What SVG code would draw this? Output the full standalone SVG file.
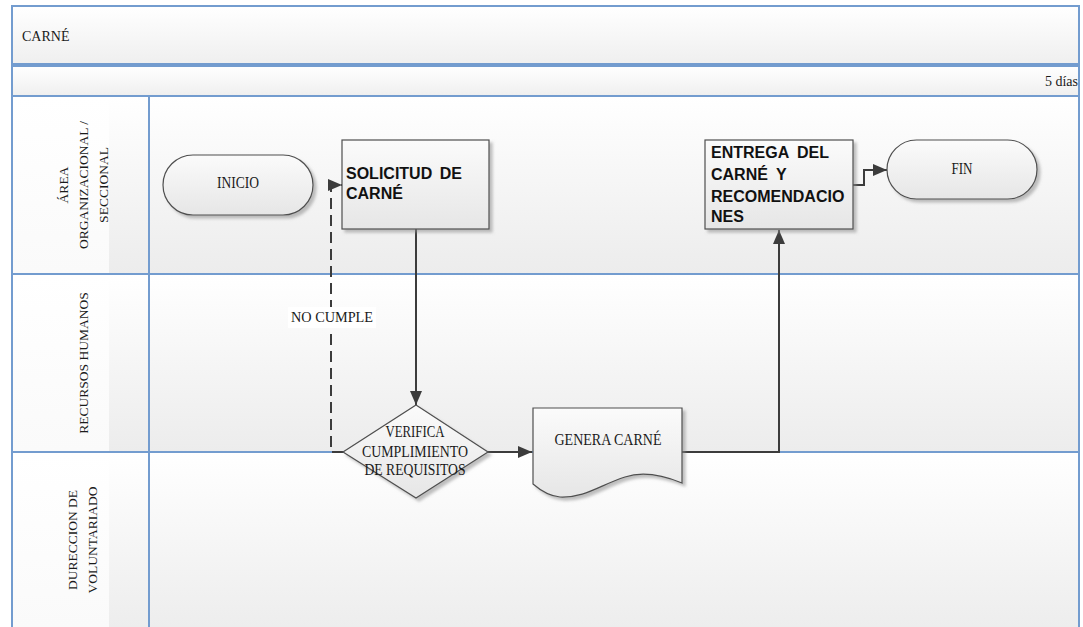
<svg xmlns="http://www.w3.org/2000/svg" width="1083" height="627" viewBox="0 0 1083 627">
  <defs>
    <linearGradient id="bandFill" x1="0" y1="0" x2="0" y2="1">
      <stop offset="0" stop-color="#ffffff"/>
      <stop offset="1" stop-color="#efefef"/>
    </linearGradient>
    <linearGradient id="laneFill" x1="0" y1="0" x2="0" y2="1">
      <stop offset="0" stop-color="#ffffff"/>
      <stop offset="1" stop-color="#ececec"/>
    </linearGradient>
    <linearGradient id="labelFill" x1="0" y1="0" x2="0" y2="1">
      <stop offset="0" stop-color="#ffffff"/>
      <stop offset="1" stop-color="#fafafa"/>
    </linearGradient>
    <linearGradient id="shapeFill" x1="0" y1="0" x2="0" y2="1">
      <stop offset="0" stop-color="#fbfbfb"/>
      <stop offset="1" stop-color="#e6e6e6"/>
    </linearGradient>
    <filter id="shadow" x="-10%" y="-10%" width="130%" height="140%">
      <feDropShadow dx="3" dy="3" stdDeviation="1.5" flood-color="#8a8a8a" flood-opacity="0.55"/>
    </filter>
    <marker id="arrow" viewBox="0 0 14 12" refX="14" refY="6" markerWidth="14" markerHeight="12" markerUnits="userSpaceOnUse" orient="auto">
      <path d="M0,0 L14,6 L0,12 Z" fill="#3c3c3c"/>
    </marker>
  </defs>
  <style>
    .band { fill: url(#bandFill); stroke: #739ccf; stroke-width: 2; }
    .lane { fill: url(#laneFill); stroke: #739ccf; stroke-width: 2; }
    .divider { stroke: #739ccf; stroke-width: 2; fill: none; }
    .shape { fill: url(#shapeFill); stroke: #4f4f4f; stroke-width: 1.2; filter: url(#shadow); }
    .serif { font-family: "Liberation Serif", "Times New Roman", serif; fill: #1a1a1a; }
    .bold { font-family: "Liberation Sans", Arial, sans-serif; font-weight: bold; font-size: 16px; fill: #111; }
    .lbl { font-size: 13.5px; text-anchor: middle; }
    .conn { stroke: #3c3c3c; stroke-width: 2; fill: none; }
    .dash { stroke-dasharray: 11 6; }
  </style>

  <rect width="1083" height="627" fill="#ffffff"/>

  <!-- Title and duration bands -->
  <g id="header">
    <rect class="band" x="12" y="6" width="1067" height="58"/>
    <text class="serif" x="22" y="41" font-size="14">CARNÉ</text>
    <rect class="band" x="12" y="66" width="1067" height="30"/>
    <text class="serif" x="1078" y="86" font-size="14" text-anchor="end">5 días</text>
  </g>

  <!-- Swimlanes -->
  <g id="lanes">
    <rect class="lane" x="12" y="96" width="1067" height="178"/>
    <rect class="lane" x="12" y="274" width="1067" height="178"/>
    <rect class="lane" x="12" y="452" width="1067" height="185"/>
    <rect x="13" y="97" width="96" height="176" fill="url(#labelFill)"/>
    <rect x="13" y="275" width="96" height="176" fill="url(#labelFill)"/>
    <rect x="13" y="453" width="96" height="174" fill="url(#labelFill)"/>
    <line class="divider" x1="149" y1="96" x2="149" y2="627"/>
    <line class="divider" x1="12" y1="274" x2="1079" y2="274"/>
    <line class="divider" x1="12" y1="452" x2="1079" y2="452"/>

    <g id="lane-area">
      <text class="serif lbl" transform="translate(68,185) rotate(-90)">ÁREA</text>
      <text class="serif lbl" transform="translate(88,185) rotate(-90)">ORGANIZACIONAL /</text>
      <text class="serif lbl" transform="translate(108,185) rotate(-90)">SECCIONAL</text>
    </g>
    <g id="lane-rrhh">
      <text class="serif lbl" transform="translate(88,363) rotate(-90)">RECURSOS HUMANOS</text>
    </g>
    <g id="lane-voluntariado">
      <text class="serif lbl" transform="translate(77,540) rotate(-90)">DURECCION DE</text>
      <text class="serif lbl" transform="translate(97,540) rotate(-90)">VOLUNTARIADO</text>
    </g>
  </g>

  <!-- Connectors -->
  <g id="connectors">
    <path class="conn dash" d="M343,452 H331 V185 H342" marker-end="url(#arrow)"/>
    <rect x="288" y="307" width="88" height="21" fill="#ffffff"/>
    <text class="serif" x="332" y="322" font-size="14" text-anchor="middle" textLength="82" lengthAdjust="spacingAndGlyphs">NO CUMPLE</text>
    <path class="conn" d="M416,229 V405" marker-end="url(#arrow)"/>
    <path class="conn" d="M488,452 H532" marker-end="url(#arrow)"/>
    <path class="conn" d="M682,452 H779 V230" marker-end="url(#arrow)"/>
    <path class="conn" d="M853,185 H864 V170 H887" marker-end="url(#arrow)"/>
  </g>

  <!-- Nodes -->
  <g id="inicio">
    <rect class="shape" x="163" y="155" width="150" height="60" rx="30" ry="30"/>
    <text class="serif" x="238" y="188" font-size="16" text-anchor="middle" textLength="42" lengthAdjust="spacingAndGlyphs">INICIO</text>
  </g>

  <g id="solicitud">
    <rect class="shape" x="342" y="140" width="147" height="89"/>
    <text class="bold" x="346" y="179">SOLICITUD</text>
    <text class="bold" x="462" y="179" text-anchor="end">DE</text>
    <text class="bold" x="346" y="199">CARNÉ</text>
  </g>

  <g id="verifica">
    <polygon class="shape" points="416,405 488,452 416,498 343,452"/>
    <text class="serif" x="415" y="437" font-size="16" text-anchor="middle" textLength="59" lengthAdjust="spacingAndGlyphs">VERIFICA</text>
    <text class="serif" x="415" y="457" font-size="16" text-anchor="middle" textLength="106" lengthAdjust="spacingAndGlyphs">CUMPLIMIENTO</text>
    <text class="serif" x="415" y="475" font-size="16" text-anchor="middle" textLength="101" lengthAdjust="spacingAndGlyphs">DE REQUISITOS</text>
  </g>

  <g id="genera">
    <path class="shape" d="M533,408 H682 V483 C660,474 640,472 625,477 C600,485 585,498 560,497 C548,496 540,490 533,484 Z"/>
    <text class="serif" x="608" y="445" font-size="16" text-anchor="middle" textLength="107" lengthAdjust="spacingAndGlyphs">GENERA CARNÉ</text>
  </g>

  <g id="entrega">
    <rect class="shape" x="705" y="140" width="148" height="89"/>
    <text class="bold" x="711" y="158">ENTREGA</text>
    <text class="bold" x="829" y="158" text-anchor="end">DEL</text>
    <text class="bold" x="711" y="180">CARNÉ</text>
    <text class="bold" x="776" y="180">Y</text>
    <text class="bold" x="711" y="202">RECOMENDACIO</text>
    <text class="bold" x="711" y="222">NES</text>
  </g>

  <g id="fin">
    <rect class="shape" x="887" y="140" width="150" height="59" rx="29.5" ry="29.5"/>
    <text class="serif" x="962" y="174" font-size="16" text-anchor="middle" textLength="21" lengthAdjust="spacingAndGlyphs">FIN</text>
  </g>
</svg>
